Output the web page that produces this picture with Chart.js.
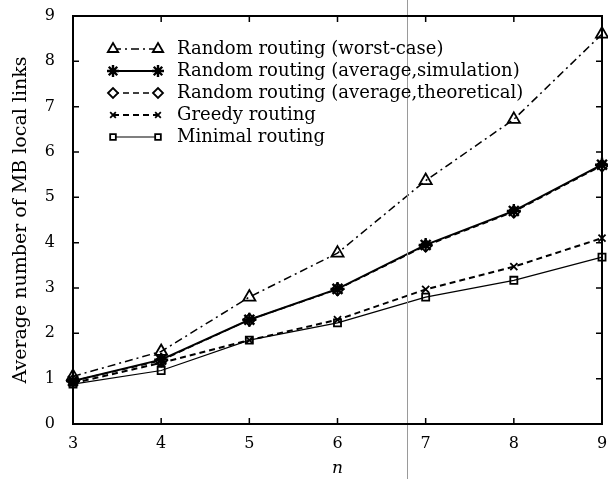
<!DOCTYPE html>
<html>
<head>
<meta charset="utf-8">
<script src="https://cdn.jsdelivr.net/npm/chart.js@4.4.1/dist/chart.umd.min.js"></script>
<style>
  html, body { margin: 0; padding: 0; background: #fff; }
  #wrap { width: 608px; height: 479px; }
</style>
</head>
<body>
<div id="wrap"><canvas id="grafico" width="608" height="479"></canvas></div>
<script>
// =====================================================
// DADOS
// =====================================================

const nValores = [3, 4, 5, 6, 7, 8, 9];
const piorCaso = [1.05, 1.6, 2.8, 3.77, 5.37, 6.72, 8.6];
const mediaSimulacao = [0.95, 1.42, 2.3, 2.98, 3.95, 4.7, 5.72];
const mediaTeorica = [0.95, 1.4, 2.3, 2.97, 3.93, 4.68, 5.7];
const gulosa = [0.9, 1.35, 1.85, 2.3, 2.97, 3.47, 4.1];
const minima = [0.88, 1.18, 1.85, 2.23, 2.8, 3.17, 3.68];
const ticksY = [0, 1, 2, 3, 4, 5, 6, 7, 8, 9];

const rotulos = [
    'Random routing (worst-case)',
    'Random routing (average,simulation)',
    'Random routing (average,theoretical)',
    'Greedy routing',
    'Minimal routing'
];

const FONTE = "'DejaVu Serif', 'Liberation Serif', serif";

function pontos(ys) {
    return nValores.map((n, i) => ({ x: n, y: ys[i] }));
}

// =====================================================
// PLUGIN: moldura, ticks internos, legenda
// =====================================================

const molduraPlugin = {
    id: 'moldura',
    afterDraw(chart) {
        const { ctx, chartArea: a, scales } = chart;
        ctx.save();

        // linha cinza do scan
        ctx.strokeStyle = '#9a9a9a';
        ctx.lineWidth = 1;
        ctx.beginPath();
        ctx.moveTo(407.5, 0);
        ctx.lineTo(407.5, 479);
        ctx.stroke();

        // moldura
        ctx.strokeStyle = '#000';
        ctx.lineWidth = 2;
        ctx.strokeRect(a.left, a.top, a.right - a.left, a.bottom - a.top);

        // ticks internos
        ctx.lineWidth = 1.5;
        ctx.beginPath();
        nValores.forEach(n => {
            const x = scales.x.getPixelForValue(n);
            ctx.moveTo(x, a.bottom); ctx.lineTo(x, a.bottom - 6);
            ctx.moveTo(x, a.top); ctx.lineTo(x, a.top + 6);
        });
        ticksY.forEach(v => {
            const y = scales.y.getPixelForValue(v);
            ctx.moveTo(a.left, y); ctx.lineTo(a.left + 6, y);
            ctx.moveTo(a.right, y); ctx.lineTo(a.right - 6, y);
        });
        ctx.stroke();

        // legenda
        const x0 = 113, x1 = 158, xt = 177;
        let y = 49;
        chart.data.datasets.forEach(ds => {
            ctx.strokeStyle = '#000';
            ctx.lineWidth = ds.borderWidth;
            ctx.setLineDash(ds.borderDash || []);
            ctx.beginPath();
            ctx.moveTo(x0, y); ctx.lineTo(x1, y);
            ctx.stroke();
            ctx.setLineDash([]);
            [x0, x1].forEach(px => {
                ctx.fillStyle = '#fff';
                ctx.strokeStyle = '#000';
                ctx.lineWidth = ds.pointBorderWidth;
                Chart.helpers.drawPoint(ctx, {
                    pointStyle: ds.pointStyle,
                    radius: ds.pointRadius - 1,
                    borderWidth: ds.pointBorderWidth
                }, px, y);
            });
            ctx.fillStyle = '#000';
            ctx.font = '18px ' + FONTE;
            ctx.textBaseline = 'middle';
            ctx.textAlign = 'left';
            ctx.fillText(ds.label, xt, y);
            y += 22;
        });
        ctx.restore();
    }
};

// =====================================================
// GRÁFICO
// =====================================================

function estilo(label, ys, pointStyle, dash, largura, raio, borda) {
    return {
        label: label,
        data: pontos(ys),
        borderColor: '#000',
        borderWidth: largura,
        borderDash: dash,
        pointStyle: pointStyle,
        pointRadius: raio,
        pointBorderWidth: borda || 1.8,
        pointBorderColor: '#000',
        pointBackgroundColor: 'rgba(255,255,255,0)',
        tension: 0,
        fill: false,
        clip: false
    };
}

new Chart(document.getElementById('grafico'), {
    type: 'line',
    data: {
        datasets: [
            estilo(rotulos[0], piorCaso, 'triangle', [8, 4, 2, 4], 1.5, 7),
            estilo(rotulos[1], mediaSimulacao, 'star', [], 2, 7, 2.4),
            estilo(rotulos[2], mediaTeorica, 'rectRot', [6, 4], 1.5, 6),
            estilo(rotulos[3], gulosa, 'crossRot', [6, 4], 2, 5),
            estilo(rotulos[4], minima, 'rect', [], 1.2, 5)
        ]
    },
    options: {
        responsive: false,
        animation: false,
        layout: { autoPadding: false, padding: { top: 16, right: 6, left: 0, bottom: 0 } },
        plugins: {
            legend: { display: false },
            tooltip: { enabled: false }
        },
        scales: {
            x: {
                type: 'linear',
                min: 3,
                max: 9,
                grid: { display: false },
                border: { display: false },
                afterFit(s) {
                    s.height = 55;
                    s.paddingLeft = 0;
                    s.paddingRight = 0;
                },
                ticks: {
                    stepSize: 1,
                    color: '#000',
                    padding: 2,
                    font: { family: FONTE, size: 16 }
                },
                title: {
                    display: true,
                    text: 'n',
                    color: '#000',
                    padding: { top: 0, bottom: 0 },
                    font: { family: FONTE, size: 17, style: 'italic' }
                }
            },
            y: {
                min: 0,
                max: 9,
                grid: { display: false },
                border: { display: false },
                afterFit(s) {
                    s.width = 73;
                    s.paddingTop = 0;
                    s.paddingBottom = 0;
                },
                afterBuildTicks(s) { s.ticks = ticksY.map(v => ({ value: v })); },
                ticks: {
                    color: '#000',
                    padding: 10,
                    font: { family: FONTE, size: 16 }
                },
                title: {
                    display: true,
                    text: 'Average number of MB local links',
                    color: '#000',
                    padding: { top: 10, bottom: 0 },
                    font: { family: FONTE, size: 19 }
                }
            }
        }
    },
    plugins: [molduraPlugin]
});
</script>
</body>
</html>
